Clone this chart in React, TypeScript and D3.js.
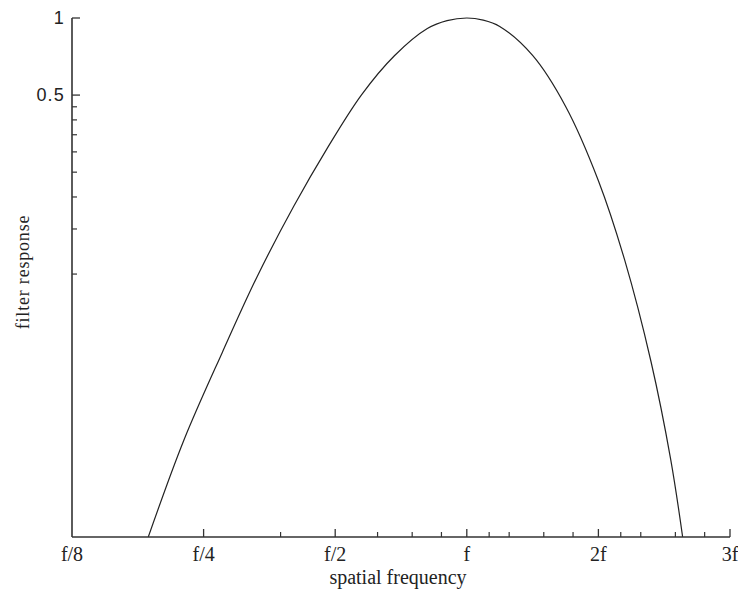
import React from 'react';
import * as d3 from 'd3';

// Tick definitions (log-scaled spatial frequency, relative to f)
const xTickValues = [0.125, 0.25, 0.5, 1, 2, 4];
const xTickLabels = ['f/8', 'f/4', 'f/2', 'f', '2f', '3f'];
const xMinorTicks = [0.375, 0.625, 0.75, 0.875, 1.125, 1.25, 1.5, 1.75, 2.25, 2.5, 3, 3.5];
const yTickValues = [0.5, 1];
const yTickLabels = ['0.5', '1'];
const yMinorTicks = [0.1, 0.15, 0.2, 0.25, 0.3, 0.35, 0.4, 0.45];

const xDomain = [0.125, 4];
const yDomain = [0.0094, 1];

// Curve samples
const frequency = [
  0.1868, 0.2253, 0.2762, 0.3318, 0.4022, 0.4797, 0.5743, 0.6830, 0.8123, 0.9013,
  1.0, 1.0905, 1.1892, 1.4142, 1.6818, 2.0, 2.2974, 2.639, 2.928, 3.117,
];
const response = [
  0.0094, 0.02244, 0.04966, 0.0981, 0.1843, 0.3103, 0.501, 0.7124, 0.9098, 0.977,
  1.0, 0.981, 0.9268, 0.7142, 0.4525, 0.2316, 0.1133, 0.04545, 0.01882, 0.0094,
];

const xTitle = 'spatial frequency';
const yTitle = 'filter response';

export default function App() {
  const W = 738;
  const H = 592;
  const left = 72;
  const right = 730;
  const top = 18;
  const bottom = 537;

  const x = d3.scaleLog().base(2).domain(xDomain).range([left, right]);
  const y = d3.scaleLog().domain(yDomain).range([bottom, top]);

  const line = d3
    .line<number>()
    .x((_, i) => x(frequency[i]))
    .y((d) => y(d))
    .curve(d3.curveCatmullRom.alpha(0.5));

  const axisColor = '#333';
  const serif = '"Liberation Serif", "Times New Roman", serif';
  const sans = '"Liberation Sans", Arial, sans-serif';

  return (
    <svg
      width={W}
      height={H}
      viewBox={`0 0 ${W} ${H}`}
      style={{ position: 'absolute', left: 0, top: 0, background: '#fff' }}
    >
      <defs>
        <clipPath id="plotClip">
          <rect x={left} y={top - 4} width={right - left} height={bottom - top + 4} />
        </clipPath>
      </defs>
      <rect x={0} y={0} width={W} height={H} fill="#fff" />

      {/* curve */}
      <path
        d={line(response) || ''}
        fill="none"
        stroke="#222"
        strokeWidth={1.2}
        clipPath="url(#plotClip)"
      />

      {/* axes */}
      <line x1={left} x2={left} y1={top} y2={bottom} stroke={axisColor} strokeWidth={1.6} />
      <line x1={left} x2={right} y1={bottom} y2={bottom} stroke={axisColor} strokeWidth={1.6} />

      {/* x ticks */}
      {xTickValues.map((v, i) => (
        <g key={`xt${i}`}>
          {i > 0 && (
            <line x1={x(v)} x2={x(v)} y1={bottom} y2={bottom - 8} stroke={axisColor} strokeWidth={1.3} />
          )}
          <text
            x={x(v)}
            y={561}
            textAnchor="middle"
            fontFamily={serif}
            fontSize={20}
            fill="#222"
          >
            {xTickLabels[i]}
          </text>
        </g>
      ))}
      {xMinorTicks.map((v, i) => (
        <line key={`xm${i}`} x1={x(v)} x2={x(v)} y1={bottom} y2={bottom - 5} stroke={axisColor} strokeWidth={1.2} />
      ))}

      {/* y ticks */}
      {yTickValues.map((v, i) => (
        <g key={`yt${i}`}>
          <line x1={left} x2={left + 8} y1={y(v)} y2={y(v)} stroke={axisColor} strokeWidth={1.3} />
          <text
            x={65}
            y={y(v) + 6}
            textAnchor="end"
            fontFamily={sans}
            fontSize={18}
            letterSpacing={1.2}
            fill="#222"
          >
            {yTickLabels[i]}
          </text>
        </g>
      ))}
      {yMinorTicks.map((v, i) => (
        <line key={`ym${i}`} x1={left} x2={left + 5} y1={y(v)} y2={y(v)} stroke={axisColor} strokeWidth={1.2} />
      ))}

      {/* titles */}
      <text
        x={398}
        y={584}
        textAnchor="middle"
        fontFamily={serif}
        fontSize={20}
        fill="#222"
      >
        {xTitle}
      </text>
      <text
        transform={`translate(29, 272) rotate(-90)`}
        textAnchor="middle"
        fontFamily={serif}
        fontSize={18}
        letterSpacing={0.8}
        fill="#222"
      >
        {yTitle}
      </text>
    </svg>
  );
}
